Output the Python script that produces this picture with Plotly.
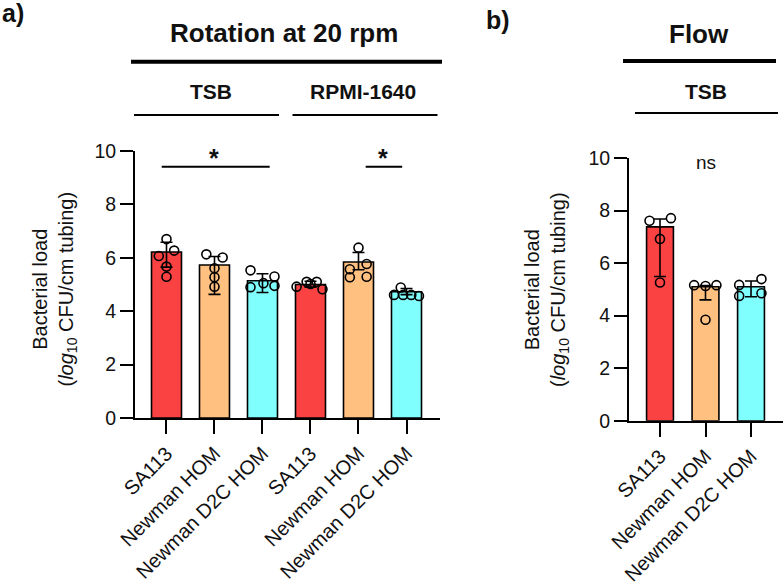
import plotly.graph_objects as go

# Data (log10 CFU/cm tubing)
strains = ["SA113", "Newman HOM", "Newman D2C HOM"]
bar_colors = ["#FA4242", "#FFC080", "#80FFFF"]

# a) rotation at 20 rpm: TSB (first 3) then RPMI-1640 (last 3)
rot_load = [6.22, 5.73, 5.14, 5.00, 5.84, 4.73]
rot_cap_hi = [6.58, 6.05, 5.40, 5.12, 6.20, 4.85]
rot_cap_lo = [5.65, 4.63, 4.70, 4.90, 5.55, 4.62]
rot_points = [
    [6.70, 6.27, 6.07, 5.67, 5.29],
    [6.13, 6.01, 5.61, 5.27, 4.92],
    [5.53, 5.05, 5.30, 4.90, 4.95],
    [4.92, 5.10, 5.10, 4.82, 5.02],
    [6.38, 5.77, 5.57, 5.27, 5.29],
    [4.89, 4.61, 4.61, 4.61, 4.57],
]
rot_jitter = [
    [0, 0.16, -0.16, 0, 0],
    [-0.17, 0.17, 0, 0, 0],
    [-0.25, 0.02, 0.25, -0.25, 0.25],
    [-0.29, -0.08, 0.13, 0.25, 0.0],
    [0, 0.17, -0.18, -0.18, 0.17],
    [-0.12, -0.26, -0.07, 0.1, 0.26],
]

# b) flow, TSB
flow_load = [7.38, 5.10, 5.10]
flow_cap_hi = [7.68, 5.14, 5.32]
flow_cap_lo = [5.49, 4.60, 4.72]
flow_points = [
    [7.61, 7.71, 6.92, 5.26],
    [5.16, 5.13, 5.16, 3.84],
    [5.17, 5.39, 4.75, 4.85],
]
flow_jitter = [
    [-0.23, 0.24, 0, 0],
    [-0.25, 0, 0.24, 0],
    [-0.26, 0.23, -0.26, 0.23],
]

FONT = "Liberation Sans, Arial, sans-serif"
W, H = 783, 588


def px(x):
    return x / W


def py(y):
    return 1 - y / H


fig = go.Figure()


def add_panel(load, cap_hi, cap_lo, points, jitter, xa, ya, width):
    n = len(load)
    xs = list(range(n))
    colors = [bar_colors[i % 3] for i in xs]
    fig.add_trace(go.Bar(
        x=xs, y=load, width=width, xaxis=xa, yaxis=ya,
        marker=dict(color=colors, line=dict(color="black", width=1.6)),
        error_y=dict(type="data", symmetric=False,
                     array=[h - v for h, v in zip(cap_hi, load)],
                     arrayminus=[v - l for l, v in zip(cap_lo, load)],
                     color="black", thickness=1.6, width=6),
        showlegend=False, hoverinfo="y",
    ))
    for i, (pts, jit) in enumerate(zip(points, jitter)):
        fig.add_trace(go.Scatter(
            x=[i + j for j in jit], y=pts, mode="markers", xaxis=xa, yaxis=ya,
            marker=dict(symbol="circle-open", size=9, color="black",
                        line=dict(width=1.6)),
            showlegend=False, hoverinfo="y",
        ))


add_panel(rot_load, rot_cap_hi, rot_cap_lo, rot_points, rot_jitter, "x", "y", 0.625)
add_panel(flow_load, flow_cap_hi, flow_cap_lo, flow_points, flow_jitter, "x2", "y2", 0.59)

axis_common = dict(
    showline=True, linecolor="black", linewidth=2, ticks="outside",
    tickcolor="black", tickwidth=2, showgrid=False, zeroline=False,
    automargin=False,
)
xfont = dict(family=FONT, size=20, color="#111")
yfont = dict(family=FONT, size=19.5, color="#111")

fig.update_layout(
    width=W, height=H,
    margin=dict(l=0, r=0, t=0, b=0),
    plot_bgcolor="white", paper_bgcolor="white",
    font=dict(family=FONT, color="#111"),
    showlegend=False,
    xaxis=dict(domain=[px(135), px(440)], range=[-0.656, 5.698],
               tickvals=list(range(6)), ticktext=strains * 2,
               tickangle=-45, ticklen=14, tickfont=xfont, **axis_common),
    yaxis=dict(domain=[py(418), py(151)], range=[0, 10], dtick=2,
               ticklen=13, tickfont=yfont, **axis_common),
    xaxis2=dict(domain=[px(629), 1.0], range=[-0.681, 2.703], anchor="y2",
                tickvals=list(range(3)), ticktext=strains,
                tickangle=-45, ticklen=14, tickfont=xfont, **axis_common),
    yaxis2=dict(domain=[py(420.7), py(158)], range=[0, 10], dtick=2,
                anchor="x2", ticklen=13, tickfont=yfont, **axis_common),
)

ytitle = "Bacterial load<br>(<i>log</i><sub>10</sub> CFU/cm tubing)"
annotations = [
    dict(text=ytitle, x=px(54), y=py(289.5), textangle=-90, size=20),
    dict(text=ytitle, x=px(546.5), y=py(289.5), textangle=-90, size=20),
    dict(text="<b>a)</b>", x=px(0), y=py(13), xanchor="left", size=25),
    dict(text="<b>b)</b>", x=px(484), y=py(20), xanchor="left", size=25),
    dict(text="<b>Rotation at 20 rpm</b>", x=px(284), y=py(33), size=26),
    dict(text="<b>Flow</b>", x=px(698.5), y=py(34), size=26),
    dict(text="<b>TSB</b>", x=px(211), y=py(91), size=21),
    dict(text="<b>RPMI-1640</b>", x=px(363), y=py(91), size=21),
    dict(text="<b>TSB</b>", x=px(706), y=py(91), size=21),
]
for a in annotations:
    size = a.pop("size")
    a.setdefault("xanchor", "center")
    fig.add_annotation(xref="paper", yref="paper", showarrow=False,
                       yanchor="middle",
                       font=dict(family=FONT, size=size, color="#111"), **a)

# significance marks
for xr, yr, x, y, txt, size in [("x", "y", 0.99, 9.75, "<b>*</b>", 25),
                                ("x", "y", 4.51, 9.75, "<b>*</b>", 25),
                                ("x2", "y2", 1.02, 9.82, "ns", 19)]:
    fig.add_annotation(text=txt, x=x, y=y, xref=xr, yref=yr, showarrow=False,
                       font=dict(family=FONT, size=size, color="#111"))
fig.add_shape(type="line", xref="x", yref="y", x0=-0.1, x1=2.15, y0=9.41, y1=9.41,
              line=dict(color="black", width=2))
fig.add_shape(type="line", xref="x", yref="y", x0=4.15, x1=4.91, y0=9.41, y1=9.41,
              line=dict(color="black", width=2))

# header rules
for x0, x1, y, w in [(131, 442, 61.7, 4), (623, 776, 61, 4),
                     (134, 279, 115, 2), (292.5, 437.5, 115, 2), (635, 778, 113, 2)]:
    fig.add_shape(type="line", xref="paper", yref="paper",
                  x0=px(x0), x1=px(x1), y0=py(y), y1=py(y),
                  line=dict(color="black", width=w))

fig.write_html("out.html", config={"displayModeBar": False},
               post_script="document.body.style.margin='0';")
